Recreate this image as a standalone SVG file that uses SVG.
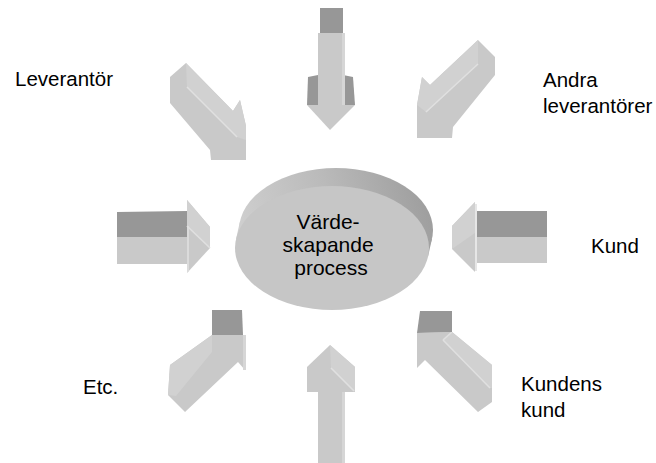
<svg xmlns="http://www.w3.org/2000/svg" width="656" height="463" viewBox="0 0 656 463">
  <defs>
    <style>
      .face { fill: #c9c9c9; }
      .top { fill: #d1d1d1; }
      .dark { fill: #979797; }
      .hi { stroke: #e0e0e0; stroke-width: 1.6; fill: none; }
      .strip { fill: #d6d6d6; }
      .side { fill: url(#sideGrad); }
      .lbl { font-family: "Liberation Sans", Arial, sans-serif; font-size: 20.5px; fill: #000; }
      .core { font-family: "Liberation Sans", Arial, sans-serif; font-size: 21px; fill: #000; }
    </style>
    <linearGradient id="sideGrad" gradientUnits="userSpaceOnUse" x1="240" y1="250" x2="432" y2="190">
      <stop offset="0" stop-color="#d0d0d0"/>
      <stop offset="0.5" stop-color="#bababa"/>
      <stop offset="1" stop-color="#9c9c9c"/>
    </linearGradient>
  </defs>
  <rect width="656" height="463" fill="#ffffff"/>

  <!-- arrows pointing in towards the process -->
  <g id="connectors">
    <!-- from above -->
    <g id="arrow-top">
      <polygon class="dark" points="320,8 343,8 343,33 320,33"/>
      <polygon class="dark" points="308,77 318,75 318,105 307,105"/>
      <polygon class="dark" points="343,75 353,77 355,105 343,105"/>
      <rect class="face" x="318" y="33" width="24" height="72"/>
      <rect class="strip" x="342" y="33" width="3" height="72"/>
      <polygon class="face" points="307,105 355,105 330,130"/>
    </g>
    <!-- from upper left -->
    <g id="arrow-top-left">
      <polygon class="face" points="186,63 170,77 170,103 210,150 211,160 246,160 246,126 240,100 233,111"/>
      <polygon class="top" points="186,63 233,111 240,100 246,126 246,140 237,137 187,87"/>
      <line class="hi" x1="187" y1="87" x2="237" y2="137"/>
    </g>
    <!-- from upper right -->
    <g id="arrow-top-right">
      <polygon class="face" points="478,40 495,57 495,75 453,127 452,138 417,138 417,105 422,77 430,85"/>
      <polygon class="top" points="478,40 430,85 422,77 417,105 426,112 478,64"/>
      <line class="hi" x1="478" y1="64" x2="426" y2="112"/>
    </g>
    <!-- from the left -->
    <g id="arrow-left">
      <polygon class="dark" points="117,212 187,211 187,237 117,237"/>
      <rect class="face" x="117" y="237" width="70" height="27"/>
      <polygon class="face" points="187,200 210,227 210,248 187,273"/>
      <polygon class="top" points="187,200 210,227 210,248 187,226"/>
      <line class="hi" x1="187" y1="226" x2="210" y2="248"/>
      <line class="hi" x1="188" y1="226" x2="188" y2="272"/>
    </g>
    <!-- from the right -->
    <g id="arrow-right">
      <polygon class="dark" points="477,211 547,211 547,237 477,237"/>
      <rect class="face" x="477" y="237" width="70" height="26"/>
      <polygon class="face" points="475,202 452,226 452,249 475,272"/>
      <polygon class="top" points="475,202 452,226 452,249 475,233"/>
      <line class="hi" x1="476" y1="204" x2="476" y2="271"/>
    </g>
    <!-- from lower left -->
    <g id="arrow-bottom-left">
      <polygon class="face" points="212,335 243,335 245,338 245,370 238,362 185,412 168,395 170,365"/>
      <polygon class="top" points="212,335 170,365 168,395 176,396 212,352"/>
      <rect class="strip" x="243" y="335" width="3" height="35"/>
      <polygon class="dark" points="212,310 242,310 243,335 212,335"/>
    </g>
    <!-- from below -->
    <g id="arrow-bottom">
      <polygon class="face" points="330,345 355,367 355,392 307,392 307,367"/>
      <polygon class="top" points="330,345 355,367 355,392 331,368"/>
      <line class="hi" x1="331" y1="368" x2="354" y2="391"/>
      <rect class="face" x="318" y="392" width="24" height="71"/>
      <rect class="strip" x="342" y="392" width="3" height="71"/>
    </g>
    <!-- from lower right -->
    <g id="arrow-bottom-right">
      <polygon class="face" points="417,333 452,332 492,365 492,402 478,412 425,360 417,368"/>
      <polygon class="top" points="443,340 452,332 492,365 492,388 490,388"/>
      <line class="hi" x1="443" y1="340" x2="490" y2="388"/>
      <line class="hi" x1="443" y1="340" x2="452" y2="332"/>
      <polygon class="dark" points="420,311 452,311 452,332 417,333"/>
    </g>
  </g>

  <!-- central process: a flat cylinder (back rim, side wall, front face) -->
  <g id="process">
    <ellipse class="side" cx="336" cy="230" rx="97" ry="62"/>
    <polygon class="side" points="236,239.3 240,221.3 432,238.7 428,256.7"/>
    <ellipse cx="332" cy="248" rx="97" ry="62" fill="#c6c6c6"/>
    <text class="core" text-anchor="middle">
      <tspan x="331" y="229">Värde-</tspan>
      <tspan x="331" y="252">skapande</tspan>
      <tspan x="331" y="275">process</tspan>
    </text>
  </g>

  <g id="label-leverantor"><text class="lbl" x="15" y="86">Leverantör</text></g>
  <g id="label-andra">
    <text class="lbl"><tspan x="543" y="87">Andra</tspan><tspan x="543" y="113">leverantörer</tspan></text>
  </g>
  <g id="label-kund"><text class="lbl" x="591" y="253">Kund</text></g>
  <g id="label-etc"><text class="lbl" x="83" y="394">Etc.</text></g>
  <g id="label-kundens-kund">
    <text class="lbl"><tspan x="521" y="391">Kundens</tspan><tspan x="521" y="417">kund</tspan></text>
  </g>
</svg>
